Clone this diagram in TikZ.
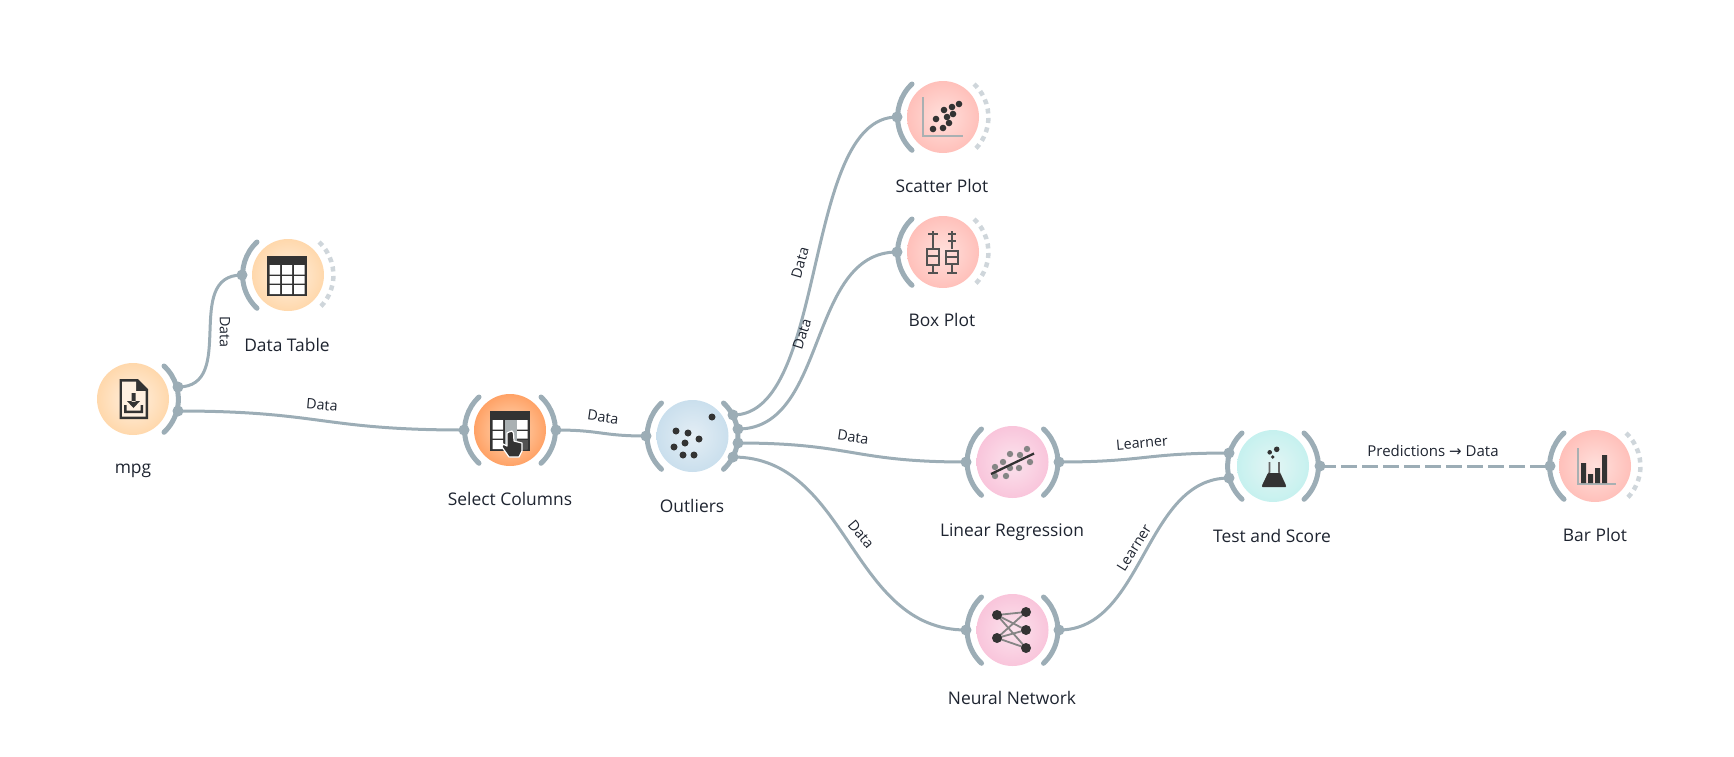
\documentclass[tikz,border=0pt]{standalone}
\usepackage{fontspec}
\setmainfont{Open Sans}
\newfontfamily\arrowfont{DejaVu Sans}
\definecolor{lnk}{HTML}{9CADB6}
\definecolor{lite}{HTML}{CFD6DB}
\definecolor{ink}{HTML}{333333}
\definecolor{axisg}{HTML}{A9B0B2}
\definecolor{txt}{HTML}{1E2430}
\definecolor{oin}{HTML}{FFF0E0}\definecolor{oout}{HTML}{FFD8AC}
\definecolor{sin}{HTML}{FFD9B8}\definecolor{sout}{HTML}{FFA266}
\definecolor{bin}{HTML}{E4EEF5}\definecolor{bout}{HTML}{CADFED}
\definecolor{rin}{HTML}{FFE0DC}\definecolor{rout}{HTML}{FFC0BA}
\definecolor{pin}{HTML}{FBE3ED}\definecolor{pout}{HTML}{F9C5DB}
\definecolor{cin}{HTML}{E3F5F4}\definecolor{cout}{HTML}{C6F1EF}
\tikzset{
 wbase/.style={circle,minimum size=72pt,inner sep=0pt,draw=none},
 orangew/.style={wbase,inner color=oin,outer color=oout},
 strongw/.style={wbase,inner color=sin,outer color=sout},
 bluew/.style={wbase,inner color=bin,outer color=bout},
 redw/.style={wbase,inner color=rin,outer color=rout},
 pinkw/.style={wbase,inner color=pin,outer color=pout},
 cyanw/.style={wbase,inner color=cin,outer color=cout},
 wlabel/.style={font=\fontsize{17.4}{20}\selectfont,text=txt,inner sep=0pt,text height=12.5pt,text depth=3.5pt,yshift=-1.5pt},
 elabel/.style={font=\fontsize{14.3}{16}\selectfont,text=txt,inner sep=0pt},
 arcline/.style={draw=lnk,line width=5pt,line cap=round},
 arcdash/.style={draw=lite,line width=4.5pt,dash pattern=on 5pt off 4.5pt},
 port/.style={circle,fill=lnk,minimum size=11pt,inner sep=0pt,draw=none},
 link/.style={draw=lnk,line width=3pt},
 dashlink/.style={draw=lnk,line width=3pt,dash pattern=on 16pt off 5pt},
 boxpen/.style={draw=ink!85,line width=2pt},
}
\newcommand{\larc}[1]{\draw[arcline] (#1)++(-31,-33) arc[start angle=133,end angle=227,radius=45.3pt];}
\newcommand{\rarc}[1]{\draw[arcline] (#1)++(31,-33) arc[start angle=47,end angle=-47,radius=45.3pt];}
\newcommand{\rdash}[1]{\draw[arcdash] (#1)++(31,-33) arc[start angle=47,end angle=-47,radius=45.3pt];}
\newcommand{\tableicon}{%
  \fill[ink] (-20,-19) rectangle (20,21);
  \fill[white] (-17.5,-10) rectangle (-7,-0.5) (-5,-10) rectangle (5,-0.5) (7,-10) rectangle (17.5,-0.5)
    (-17.5,1) rectangle (-7,8.5) (-5,1) rectangle (5,8.5) (7,1) rectangle (17.5,8.5)
    (-17.5,10) rectangle (-7,19) (-5,10) rectangle (5,19) (7,10) rectangle (17.5,19);
}
\begin{document}
\begin{tikzpicture}[x=1pt,y=-1pt]
\useasboundingbox (0,0) rectangle (1734,756);
% widgets
\node[orangew] (mpg) at (133,399) {};
\node[orangew] (dt) at (288,275) {};
\node[strongw] (sc) at (510,430) {};
\node[bluew] (ol) at (692.5,436) {};
\node[redw] (sp) at (943,117) {};
\node[redw] (bp) at (943,252) {};
\node[pinkw] (lr) at (1012.5,462) {};
\node[pinkw] (nn) at (1012.5,630) {};
\node[cyanw] (ts) at (1273,466) {};
\node[redw] (bar) at (1595,466) {};
% arcs
\rarc{mpg}
\larc{dt}\rdash{dt}
\larc{sc}\rarc{sc}
\larc{ol}\rarc{ol}
\larc{sp}\rdash{sp}
\larc{bp}\rdash{bp}
\larc{lr}\rarc{lr}
\larc{nn}\rarc{nn}
\larc{ts}\rarc{ts}
\larc{bar}\rdash{bar}
% ports
\node[port] (mpgA) at (178,387) {};
\node[port] (mpgB) at (178,411) {};
\node[port] (dtI) at (242,275) {};
\node[port] (scI) at (464,430) {};
\node[port] (scO) at (556,430) {};
\node[port] (olI) at (646,436) {};
\node[port] (olA) at (733,415) {};
\node[port] (olB) at (738,429) {};
\node[port] (olC) at (738,443) {};
\node[port] (olD) at (733,457) {};
\node[port] (spI) at (897,117) {};
\node[port] (bpI) at (897,252) {};
\node[port] (lrI) at (966,462) {};
\node[port] (lrO) at (1059,462) {};
\node[port] (nnI) at (966,630) {};
\node[port] (nnO) at (1059,630) {};
\node[port] (tsA) at (1229,453) {};
\node[port] (tsB) at (1229,478) {};
\node[port] (tsO) at (1320,466) {};
\node[port] (barI) at (1550,466) {};
% links
\draw[link] (mpgA.center) .. controls +(60,0) and +(-60,0) .. (dtI.center);
\draw[link] (mpgB.center) .. controls +(143,0) and +(-143,0) .. (scI.center);
\draw[link] (scO.center) .. controls +(45,0) and +(-45,0) .. (olI.center);
\draw[link] (olA.center) .. controls +(95,0) and +(-95,0) .. (spI.center);
\draw[link] (olB.center) .. controls +(90,0) and +(-90,0) .. (bpI.center);
\draw[link] (olC.center) .. controls +(114,0) and +(-114,0) .. (lrI.center);
\draw[link] (olD.center) .. controls +(116,0) and +(-116,0) .. (nnI.center);
\draw[link] (lrO.center) .. controls +(85,0) and +(-85,0) .. (tsA.center);
\draw[link] (nnO.center) .. controls +(85,0) and +(-85,0) .. (tsB.center);
\draw[dashlink] (tsO.center) -- (barI.center);
% widget labels
\node[wlabel] (l1) at (133,467) {mpg};
\node[wlabel] (l2) at (287,345) {Data Table};
\node[wlabel] (l3) at (510,499) {Select Columns};
\node[wlabel] (l4) at (692,506) {Outliers};
\node[wlabel] (l5) at (942,186) {Scatter Plot};
\node[wlabel] (l6) at (942,320) {Box Plot};
\node[wlabel] (l7) at (1012,530) {Linear Regression};
\node[wlabel] (l8) at (1012,698) {Neural Network};
\node[wlabel] (l9) at (1272,536) {Test and Score};
\node[wlabel] (l10) at (1595,535) {Bar Plot};
% link labels
\node[elabel,rotate=-90] (e1) at (225,332) {Data};
\node[elabel,rotate=-5] (e2) at (322,405) {Data};
\node[elabel,rotate=-8] (e3) at (603,417) {Data};
\node[elabel,rotate=74] (e4) at (800,263) {Data};
\node[elabel,rotate=72] (e5) at (802,334) {Data};
\node[elabel,rotate=-8] (e6) at (853,437) {Data};
\node[elabel,rotate=-50] (e7) at (861,534) {Data};
\node[elabel,rotate=5] (e8) at (1142,443) {Learner};
\node[elabel,rotate=58] (e9) at (1134,548) {Learner};
\node[elabel,font=\fontsize{15}{17}\selectfont] (e10) at (1433,451) {Predictions {\arrowfont→} Data};
% icons
\begin{scope}[shift={(133,399)}] % file
  \fill[ink] (-13.5,-20) -- (5,-20) -- (15,-10) -- (15,20) -- (-13.5,20) -- cycle;
  \fill[oin] (-11,-17.5) -- (3,-17.5) -- (3,-8) -- (12.5,-8) -- (12.5,17.5) -- (-11,17.5) -- cycle;
  \fill[ink] (-1.5,-6) rectangle (2.5,3) (-6,2) -- (7,2) -- (0.5,9) -- cycle;
  \fill[ink] (-9,6) rectangle (-6.5,14) (-9,11.5) rectangle (10,14) (7.5,6) rectangle (10,14);
\end{scope}
\begin{scope}[shift={(287,275)}] \tableicon \end{scope}
\begin{scope}[shift={(510,430)}]
  \tableicon
  \fill[axisg] (-5,-10) rectangle (7,19);
  \fill[ink!85] (7,10) rectangle (17.5,19);
  \draw[white,line width=1.2pt,fill=ink,line join=round] (-1,2) -- (2,1) -- (3.5,3) -- (4,11) -- (12,13) -- (12,21) -- (9,27) -- (-1,27) -- (-8,17) -- (-7,14) -- (-3,16) -- (-3,3) -- cycle;
\end{scope}
\begin{scope}[shift={(692,436)}]
  \foreach \p in {(20,-19),(-16,-5),(-4,-3),(-18,11),(-7,7),(-9,19),(7,3),(2,19)} \fill[ink] \p circle (3.5);
\end{scope}
\begin{scope}[shift={(942,117)}]
  \draw[axisg,line width=2pt] (-19,-20) -- (-19,19) -- (21,19);
  \foreach \p in {(17,-13),(10,-10),(2,-7),(-6,2),(5,0),(11,-3),(-9,12),(1,11),(7,6)} \fill[ink] \p circle (3.3);
\end{scope}
\begin{scope}[shift={(942,252)}]
  \draw[boxpen] (-9,-21) -- (-9,-3) (-14,-18) -- (-4,-18) (-9,13) -- (-9,21) (-14,21) -- (-4,21);
  \draw[boxpen] (-15,-3) rectangle (-3,13);
  \draw[boxpen] (-15,4) -- (-3,4);
  \draw[boxpen] (10,-21) -- (10,-3) (6,-18) -- (14,-18) (6,-11) -- (14,-11) (10,12) -- (10,21) (5,21) -- (15,21);
  \draw[boxpen] (4,-1) rectangle (16,12) (4,5) -- (16,5);
\end{scope}
\begin{scope}[shift={(1012,462)}]
  \foreach \p in {(-17,5),(-9,0),(-2,-8),(8,-7),(15,-13),(18,0),(7,6),(-2,6),(-17,14),(-6,14)} \fill[ink!60] \p circle (3.2);
  \draw[ink,line width=2.3pt] (-21,12) -- (22,-8.5);
\end{scope}
\begin{scope}[shift={(1012,630)}]
  \foreach \a in {(-15,-15),(-15,8)} \foreach \b in {(14,-18),(14,0),(14,18)} \draw[ink!60,line width=1.8pt] \a -- \b;
  \foreach \p in {(-15,-15),(-15,8),(14,-18),(14,0),(14,18)} \fill[ink] \p circle (5);
\end{scope}
\begin{scope}[shift={(1273,466)}]
  \fill[ink] (3.7,-16.7) circle (2.8) (-3.3,-13.7) circle (2.3) (-0.3,-9) circle (1.9);
  \draw[ink!75,line width=1.6pt] (-3.5,-4) -- (-3.5,6) -- (-10,19) (6,-4) -- (6,6) -- (12,19);
  \fill[ink,rounded corners=1pt] (-5,7) -- (7,7) -- (13.5,21) -- (-11.5,21) -- cycle;
\end{scope}
\begin{scope}[shift={(1595,466)}]
  \draw[axisg,line width=1.5pt] (-17,-18) -- (-17,18) -- (21,18);
  \fill[ink] (-14,-3) rectangle (-9,17) (-7,8) rectangle (-2,17) (0,2) rectangle (5,17) (7,-11) rectangle (12,17);
\end{scope}
\end{tikzpicture}
\end{document}
